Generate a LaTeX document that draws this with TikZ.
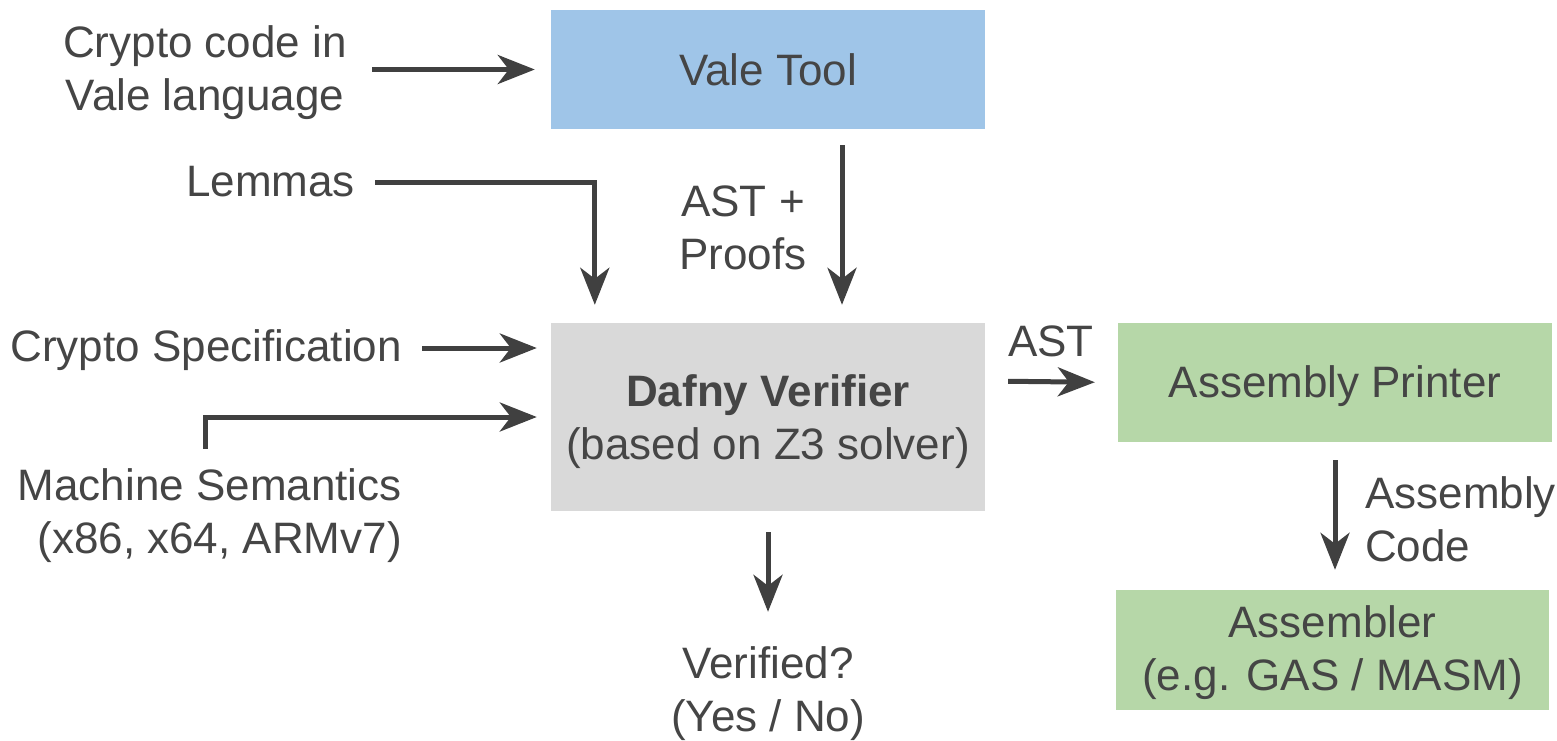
\documentclass[tikz,border=0pt]{standalone}
\usepackage{fontspec}
\setmainfont{Liberation Sans}
\usetikzlibrary{arrows.meta}
\definecolor{valeblue}{HTML}{9FC5E8}
\definecolor{dafnygray}{HTML}{D9D9D9}
\definecolor{asmgreen}{HTML}{B6D7A8}
\definecolor{txtgray}{HTML}{454545}
\definecolor{linegray}{HTML}{404040}
\newcommand{\lowerby}[2]{\raisebox{-#1}[\height][\depth]{#2}}
\tikzset{
  box/.style={draw=none, minimum width=434pt, inner sep=0pt, text=txtgray, align=center},
  lbl/.style={inner sep=0pt, text=txtgray},
  arr/.style={draw=linegray, line width=5pt, -{Stealth[length=37pt,width=29pt,inset=11pt]}}
}
\begin{document}
\begin{tikzpicture}[x=1pt,y=-1pt, font=\fontsize{44}{53}\selectfont]
\useasboundingbox (0,0) rectangle (1557,740);
% boxes
\node[box, fill=valeblue, minimum height=119pt] (vale) at (768,69.5) {Vale Tool};
\node[box, fill=dafnygray, minimum height=188pt] (dafny) at (768,417) {\lowerby{5pt}{\textbf{Dafny Verifier}}\\\lowerby{5pt}{(based on Z3 solver)}};
\node[box, fill=asmgreen, minimum height=119pt] (printer) at (1335,382.5) {\lowerby{4pt}{Assembly Printer}};
\node[box, fill=asmgreen, minimum height=120pt, minimum width=433pt] (asm) at (1332.5,650) {\lowerby{3pt}{Assembler}\\\lowerby{3pt}{(e.g. GAS / MASM)}};
% labels
\node[lbl, align=center] (cc) at (205,73) {Crypto code in\\Vale language};
\node[lbl, anchor=east] (lem) at (355,182) {Lemmas};
\node[lbl, align=center] (astp) at (743,228) {AST +\\Proofs};
\node[lbl, anchor=east] (spec) at (402,350) {Crypto Specification};
\node[lbl, anchor=east, align=right] (ms) at (402,516) {Machine Semantics\\ (x86, x64, ARMv7)};
\node[lbl] (astl) at (1051,341) {AST};
\node[lbl, anchor=west, align=left] (acode) at (1365,519) {Assembly\\Code};
\node[lbl, align=center] (ver) at (768,694) {Verified?\\(Yes / No)};
% connectors
\draw[arr, shorten >=16pt] ([xshift=25pt]cc.east |- vale.west) -- (vale.west);
\draw[arr, shorten >=18pt] ([xshift=20pt]lem.east) -| ([xshift=44pt]dafny.north west);
\draw[arr, shorten <=16pt, shorten >=18pt] ([xshift=74pt]vale.south) -- ([xshift=74pt]dafny.north);
\draw[arr, shorten >=14pt] ([xshift=20pt,yshift=2pt]spec.east) -- ([yshift=69pt]dafny.west);
\draw[arr, shorten >=14pt] ([xshift=188pt,yshift=20pt]ms.north west) |- (dafny.west);
\draw[arr, shorten <=21pt] (dafny.south) -- ([yshift=35pt]ver.north);
\draw[arr, shorten <=23pt, shorten >=23pt] ([yshift=36pt]dafny.east) -- (printer.west);
\draw[arr, shorten <=18pt, shorten >=20pt] (printer.south) -- (printer.south |- asm.north);
\end{tikzpicture}
\end{document}
